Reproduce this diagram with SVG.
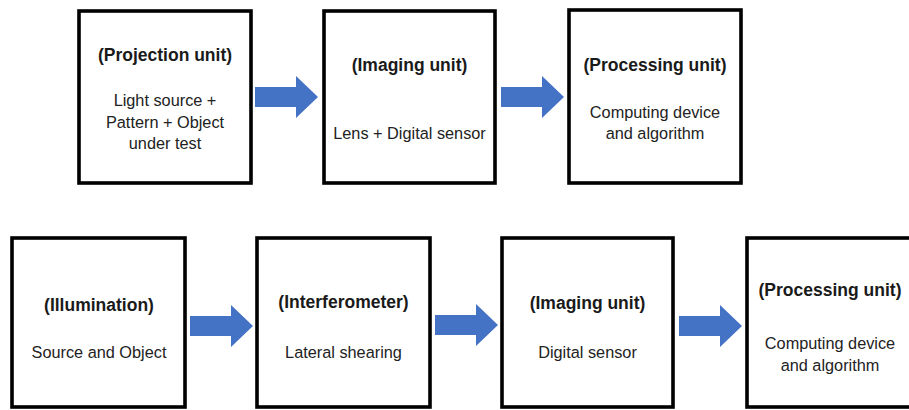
<svg xmlns="http://www.w3.org/2000/svg" width="909" height="410" viewBox="0 0 909 410">
<style>
.box{fill:#fff;stroke:#000;stroke-width:3.6}
.t{font-family:"Liberation Sans",Arial,sans-serif;font-size:17.5px;font-weight:bold;fill:#1a1a1a;text-anchor:middle}
.b{font-family:"Liberation Sans",Arial,sans-serif;font-size:16.3px;fill:#222;text-anchor:middle}
.arr{fill:#4472C4}
</style>
<defs>
<path id="arrow" d="M0,-10 L41,-10 L41,-21 L63,0 L41,21 L41,10 L0,10 Z"/>
</defs>
<rect width="909" height="410" fill="#fff"/>
<g id="projection">
<rect class="box" x="79" y="11" width="172" height="172"/>
<text class="t" x="165" y="61">(Projection unit)</text>
<text class="b" x="165" y="106">Light source +</text>
<text class="b" x="165" y="128">Pattern + Object</text>
<text class="b" x="165" y="149">under test</text>
</g>
<g id="imaging1">
<rect class="box" x="324" y="11" width="171" height="172"/>
<text class="t" x="409.5" y="71">(Imaging unit)</text>
<text class="b" x="409.5" y="139">Lens + Digital sensor</text>
</g>
<g id="processing1">
<rect class="box" x="569" y="10" width="172" height="173"/>
<text class="t" x="655" y="71">(Processing unit)</text>
<text class="b" x="655" y="118">Computing device</text>
<text class="b" x="655" y="139">and algorithm</text>
</g>
<g id="illumination">
<rect class="box" x="12" y="238" width="173" height="169"/>
<text class="t" x="99" y="311">(Illumination)</text>
<text class="b" x="99" y="358">Source and Object</text>
</g>
<g id="interferometer">
<rect class="box" x="257" y="238" width="173" height="169"/>
<text class="t" x="343.5" y="308">(Interferometer)</text>
<text class="b" x="343.5" y="358">Lateral shearing</text>
</g>
<g id="imaging2">
<rect class="box" x="502" y="238" width="171" height="169"/>
<text class="t" x="587.5" y="309">(Imaging unit)</text>
<text class="b" x="587.5" y="358">Digital sensor</text>
</g>
<g id="processing2">
<rect class="box" x="747" y="238" width="168" height="169"/>
<text class="t" x="830" y="296">(Processing unit)</text>
<text class="b" x="830" y="349">Computing device</text>
<text class="b" x="830" y="371">and algorithm</text>
</g>
<g id="connectors">
<use href="#arrow" class="arr" transform="translate(255,97)"/>
<use href="#arrow" class="arr" transform="translate(501,97)"/>
<use href="#arrow" class="arr" transform="translate(190,326)"/>
<use href="#arrow" class="arr" transform="translate(435,325)"/>
<use href="#arrow" class="arr" transform="translate(679,326)"/>
</g>
</svg>
